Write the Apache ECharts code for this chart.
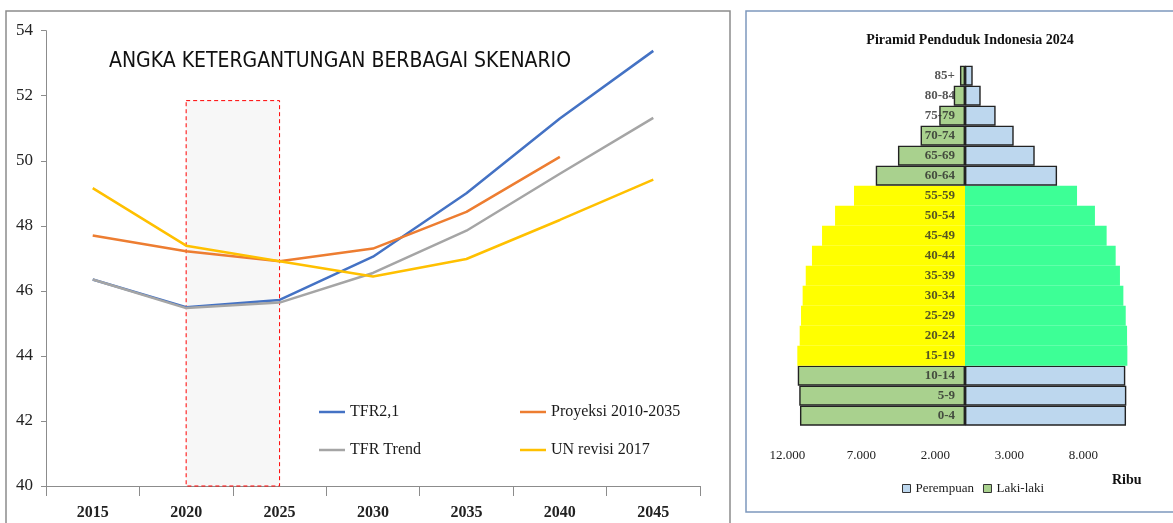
<!DOCTYPE html>
<html>
<head>
<meta charset="utf-8">
<script src="https://cdn.jsdelivr.net/npm/echarts@6/dist/echarts.min.js"></script>
<style>
  html, body { margin: 0; padding: 0; background: #fff; }
  #chart { width: 1173px; height: 523px; }
</style>
</head>
<body>
<div id="chart"></div>
<script>
// left chart: angka ketergantungan
const years = ['2015', '2020', '2025', '2030', '2035', '2040', '2045'];
const tfr21 = [46.35, 45.5, 45.72, 47.05, 49.0, 51.3, 53.38];
const proyeksi = [47.7, 47.22, 46.91, 47.3, 48.43, 50.12, null];
const tfrTrend = [46.35, 45.47, 45.64, 46.55, 47.85, 49.6, 51.32];
const unRevisi = [49.16, 47.39, 46.91, 46.44, 46.98, 48.18, 49.42];

// right chart: piramid penduduk (ribu), dari bawah ke atas
const ageGroups = ['0-4', '5-9', '10-14', '15-19', '20-24', '25-29', '30-34', '35-39',
  '40-44', '45-49', '50-54', '55-59', '60-64', '65-69', '70-74', '75-79', '80-84', '85+'];
const lakiLaki = [11150, 11200, 11300, 11330, 11170, 11080, 10970, 10760, 10340,
  9660, 8780, 7500, 6030, 4530, 3000, 1740, 760, 340];
const perempuan = [10880, 10900, 10830, 10970, 10950, 10860, 10700, 10470, 10180,
  9570, 8780, 7570, 6220, 4710, 3290, 2070, 1060, 520];

const serif = '"Liberation Serif", "DejaVu Serif", serif';

// usia produktif 15-59 ditandai
const productive = (i) => i >= 3 && i <= 11;

const maleData = lakiLaki.map((v, i) => ({
  value: -v,
  itemStyle: productive(i)
    ? { color: '#ffff00', borderWidth: 0 }
    : { color: '#a9d18e', borderColor: '#222', borderWidth: 1.4 }
}));
const femaleData = perempuan.map((v, i) => ({
  value: v,
  itemStyle: productive(i)
    ? { color: '#3dff96', borderWidth: 0 }
    : { color: '#bdd7ee', borderColor: '#222', borderWidth: 1.4 }
}));

const chart = echarts.init(document.getElementById('chart'));

const lineSeries = (name, data, color, extra) => Object.assign({
  name: name,
  type: 'line',
  xAxisIndex: 0,
  yAxisIndex: 0,
  data: data,
  symbol: 'none',
  color: color,
  lineStyle: { width: 2.5, color: color }
}, extra || {});

const lineLegend = (names, left) => ({
  data: names,
  orient: 'vertical',
  left: left,
  top: 397,
  icon: 'rect',
  itemWidth: 26,
  itemHeight: 2.5,
  itemGap: 18,
  textStyle: { fontFamily: serif, fontSize: 16, color: '#1a1a1a', lineHeight: 20 }
});

const option = {
  backgroundColor: '#fff',
  animation: false,
  title: [
    {
      text: 'ANGKA KETERGANTUNGAN BERBAGAI SKENARIO',
      left: 104,
      top: 46,
      textStyle: {
        fontFamily: '"DejaVu Sans Condensed", "Liberation Sans", sans-serif',
        fontSize: 21,
        fontWeight: 'normal',
        color: '#111'
      }
    },
    {
      text: 'Piramid Penduduk Indonesia 2024',
      left: 965,
      textAlign: 'center',
      top: 28,
      textStyle: { fontFamily: serif, fontSize: 14, fontWeight: 'bold', color: '#111' }
    }
  ],
  graphic: [
    {
      type: 'rect',
      shape: { x: 6, y: 11, width: 724, height: 530 },
      style: { fill: 'none', stroke: '#8c8c8c', lineWidth: 1.5 },
      z: -1
    },
    {
      type: 'rect',
      shape: { x: 746, y: 11, width: 450, height: 501 },
      style: { fill: 'none', stroke: '#7d98bd', lineWidth: 1.5 },
      z: -1
    },
    {
      type: 'text',
      left: 1112,
      top: 473,
      style: { text: 'Ribu', font: 'bold 14px ' + serif, fill: '#111' }
    }
  ],
  legend: [
    lineLegend(['TFR2,1', 'TFR Trend'], 314),
    lineLegend(['Proyeksi 2010-2035', 'UN revisi 2017'], 515),
    {
      data: ['Perempuan', 'Laki-laki'],
      left: 897,
      top: 477,
      icon: 'rect',
      itemWidth: 8,
      itemHeight: 8,
      itemGap: 9,
      itemStyle: { borderColor: '#333', borderWidth: 1 },
      textStyle: { fontFamily: serif, fontSize: 13, color: '#1a1a1a' }
    }
  ],
  grid: [
    { left: 46, top: 30.7, width: 654, height: 455.3 },
    { left: 787.4, top: 65.7, width: 355.2, height: 360 }
  ],
  xAxis: [
    {
      type: 'category',
      gridIndex: 0,
      data: years,
      boundaryGap: true,
      axisLine: { lineStyle: { color: '#8c8c8c', width: 1 } },
      axisTick: { show: true, length: 10, interval: 0, lineStyle: { color: '#8c8c8c' } },
      axisLabel: { margin: 19, fontFamily: serif, fontSize: 16, fontWeight: 'bold', color: '#222' }
    },
    {
      type: 'value',
      gridIndex: 1,
      min: -12000,
      max: 12000,
      interval: 5000,
      axisLine: { show: false },
      axisTick: { show: false },
      splitLine: { show: false },
      axisLabel: {
        margin: 23,
        showMaxLabel: false,
        fontFamily: serif,
        fontSize: 13,
        color: '#222',
        formatter: (v) => Math.abs(v).toLocaleString('de-DE')
      }
    }
  ],
  yAxis: [
    {
      type: 'value',
      gridIndex: 0,
      min: 40,
      max: 54,
      interval: 2,
      axisLine: { show: true, lineStyle: { color: '#8c8c8c', width: 1 } },
      axisTick: { show: true, length: 5, lineStyle: { color: '#8c8c8c' } },
      splitLine: { show: false },
      axisLabel: { margin: 13, fontFamily: serif, fontSize: 17, color: '#222' }
    },
    {
      type: 'category',
      gridIndex: 1,
      data: ageGroups,
      axisLine: { show: true, onZero: true, lineStyle: { color: '#d0d0d0', width: 1 } },
      axisTick: { show: false },
      axisLabel: { show: false }
    }
  ],
  series: [
    lineSeries('TFR2,1', tfr21, '#4472c4', {
      markArea: {
        silent: true,
        itemStyle: {
          color: '#f7f7f7',
          borderColor: '#ff0000',
          borderWidth: 1,
          borderType: [4, 3]
        },
        data: [[{ xAxis: '2020', yAxis: 51.85 }, { xAxis: '2025', yAxis: 40 }]]
      }
    }),
    lineSeries('Proyeksi 2010-2035', proyeksi, '#ed7d31'),
    lineSeries('TFR Trend', tfrTrend, '#a5a5a5'),
    lineSeries('UN revisi 2017', unRevisi, '#ffc000'),
    {
      name: 'Laki-laki',
      type: 'bar',
      xAxisIndex: 1,
      yAxisIndex: 1,
      data: maleData,
      color: '#a9d18e',
      barWidth: '100%',
      barGap: '-100%',
      barCategoryGap: 0
    },
    {
      name: 'Perempuan',
      type: 'bar',
      xAxisIndex: 1,
      yAxisIndex: 1,
      data: femaleData,
      color: '#bdd7ee',
      barWidth: '100%',
      barGap: '-100%',
      barCategoryGap: 0
    },
    {
      // label kelompok umur di tengah piramid
      name: 'umur',
      type: 'scatter',
      xAxisIndex: 1,
      yAxisIndex: 1,
      z: 10,
      silent: true,
      symbolSize: 0,
      data: ageGroups.map((a) => [0, a]),
      label: {
        show: true,
        position: 'left',
        distance: 10,
        formatter: (p) => p.value[1],
        fontFamily: serif,
        fontSize: 13,
        fontWeight: 'bold',
        color: '#2a2a2a'
      }
    }
  ]
};

chart.setOption(option);
</script>
</body>
</html>
